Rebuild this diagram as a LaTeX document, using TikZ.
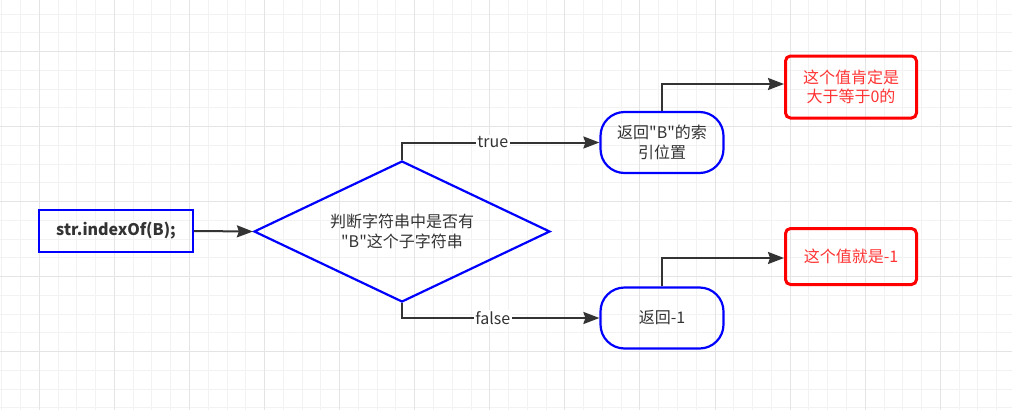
\documentclass[tikz,border=0pt]{standalone}
\usepackage{fontspec}
\setmainfont{Noto Sans CJK SC}[Ligatures=TeXOff]
\usetikzlibrary{shapes.geometric,arrows.meta}
\definecolor{ink}{HTML}{333333}
\definecolor{bblue}{HTML}{0000FF}
\definecolor{rred}{HTML}{FF0000}
\definecolor{rtext}{HTML}{FF3333}
\definecolor{gminor}{HTML}{F2F2F2}
\definecolor{gmajor}{HTML}{E4E4E4}
\tikzset{
  gridminor/.style={draw=gminor,line width=1pt},
  gridmajor/.style={draw=gmajor,line width=1pt},
  txt/.style={font=\fontsize{16}{19.5}\selectfont,text=ink,align=center,inner sep=0pt},
  startbox/.style={txt,draw=bblue,line width=2.2pt,rectangle,minimum width=154pt,minimum height=42pt,font=\fontsize{16}{19.5}\selectfont\bfseries},
  decbox/.style={txt,draw=bblue,line width=2.2pt,diamond,minimum width=296pt,minimum height=141pt,aspect=2},
  retbox/.style={txt,draw=bblue,line width=2.2pt,rectangle,rounded corners=24pt,minimum width=123pt,minimum height=61pt},
  notebox/.style={txt,text=rtext,draw=rred,line width=3pt,rectangle,rounded corners=5pt,minimum width=131pt},
  conn/.style={draw=ink,line width=2pt,-{Stealth[length=16pt,width=12pt,inset=2pt]}},
  edgelabel/.style={font=\fontsize{16}{19.5}\selectfont,text=ink,fill=white,inner sep=1.5pt}
}
\begin{document}
\begin{tikzpicture}[x=1pt,y=-1pt]
\useasboundingbox[fill=white] (0,0) rectangle (1012,410);
% grid
\foreach \i in {0,...,53} \draw[gridminor] ({1.8+\i*18.77},0) -- ({1.8+\i*18.77},410);
\foreach \j in {0,...,22} \draw[gridminor] (0,{-4.55+\j*18.75}) -- (1012,{-4.55+\j*18.75});
\foreach \i in {0,...,12} \draw[gridmajor] ({39.3+\i*75.08},0) -- ({39.3+\i*75.08},410);
\foreach \j in {0,...,4} \draw[gridmajor] (0,{51.7+\j*75}) -- (1012,{51.7+\j*75});
% nodes
\node[startbox] (start) at (116,231) {str.indexOf(B);};
\node[decbox] (dec) at (402,231.5) {判断字符串中是否有\\"B"这个子字符串};
\node[retbox] (retB) at (662,142.5) {返回"B"的索\\引位置};
\node[retbox] (retM) at (662,318) {返回-1};
\node[notebox,minimum height=62pt] (noteA) at (851,87) {这个值肯定是\\大于等于0的};
\node[notebox,minimum height=56pt] (noteB) at (851,256.5) {这个值就是-1};
% connectors
\draw[conn] (start.east) -- (dec.west);
\draw[conn] (dec.north) |- node[edgelabel,pos=0.73] {true} (retB.west);
\draw[conn] (dec.south) |- node[edgelabel,pos=0.73] {false} (retM.west);
\draw[conn] (retB.north) |- ([yshift=3pt]noteA.west);
\draw[conn] (retM.north) |- ([yshift=-1.5pt]noteB.west);
\end{tikzpicture}
\end{document}
